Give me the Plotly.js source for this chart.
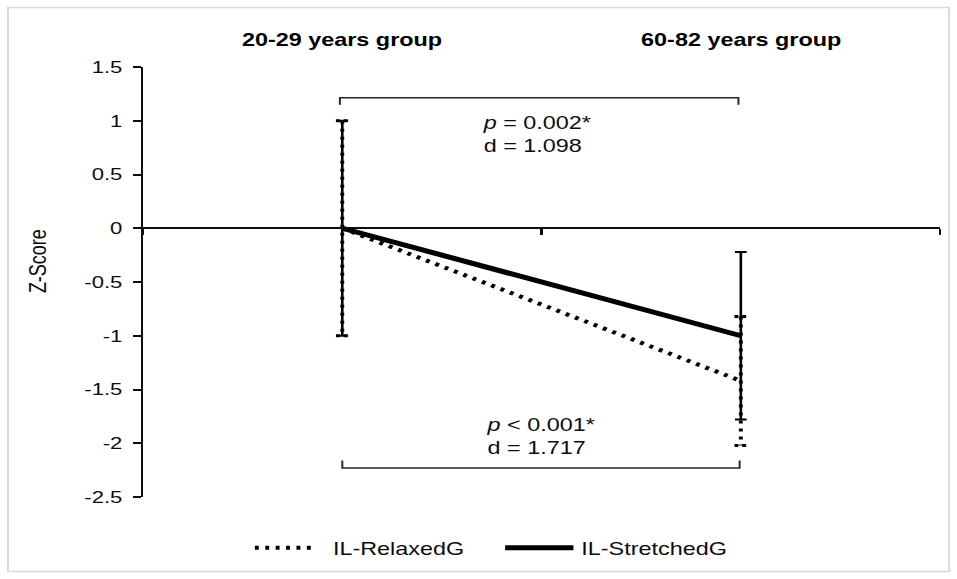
<!DOCTYPE html>
<html>
<head>
<meta charset="utf-8">
<script src="https://cdn.plot.ly/plotly-3.0.1.min.js"></script>
<style>
html,body{margin:0;padding:0;overflow:hidden;background:#fff;}
#wrap{width:957px;height:579px;overflow:hidden;}
#chart{width:736px;height:579px;transform:scaleX(1.30027);transform-origin:0 0;}
</style>
</head>
<body>
<div id="wrap"><div id="chart"></div></div>
<script>
// ---- data ----
const groups = ['20-29 years group', '60-82 years group'];
const seriesNames = ['IL-RelaxedG', 'IL-StretchedG'];
const relaxedMean = [0, -1.42];
const relaxedErr = [1, 0.6];
const stretchedMean = [0, -1];
const stretchedErr = [1, 0.78];
const yTickVals = [-2.5, -2, -1.5, -1, -0.5, 0, 0.5, 1, 1.5];
const yTickText = ['-2.5', '-2', '-1.5', '-1', '-0.5', '0', '0.5', '1', '1.5'];
const pTexts = ['<i>p</i> = 0.002*', '<i>p</i> &lt; 0.001*'];
const dTexts = ['d = 1.098', 'd = 1.717'];
const yTitle = 'Z-Score';

// ---- helpers ----
const xIdx = groups.map((g, i) => i);
const INK = '#0d0d0d';
const FONT = 'Liberation Sans, Arial, sans-serif';

function errVertical(xs, ys, es) {
  const X = [], Y = [];
  xs.forEach((x, i) => { X.push(x, x, null); Y.push(ys[i] + es[i], ys[i] - es[i], null); });
  return {X, Y};
}
function errCaps(xs, ys, es, half) {
  const X = [], Y = [];
  xs.forEach((x, i) => {
    X.push(x - half, x + half, null, x - half, x + half, null);
    Y.push(ys[i] + es[i], ys[i] + es[i], null, ys[i] - es[i], ys[i] - es[i], null);
  });
  return {X, Y};
}
const rv = errVertical(xIdx, relaxedMean, relaxedErr);
const rc = errCaps(xIdx, relaxedMean, relaxedErr, 0.016);

const traces = [
  {
    type: 'scatter', mode: 'lines', name: seriesNames[1],
    x: xIdx, y: stretchedMean,
    line: {color: '#000', width: 5},
    error_y: {type: 'data', array: stretchedErr, visible: true, color: '#000', thickness: 2, width: 4.5},
    hoverinfo: 'skip'
  },
  {
    type: 'scatter', mode: 'lines', showlegend: false,
    x: rv.X, y: rv.Y,
    line: {color: '#000', width: 3, dash: '3px,5px'},
    hoverinfo: 'skip'
  },
  {
    type: 'scatter', mode: 'lines', showlegend: false,
    x: rc.X, y: rc.Y,
    line: {color: '#000', width: 3, dash: '3px,3px'},
    hoverinfo: 'skip'
  },
  {
    type: 'scatter', mode: 'lines', name: seriesNames[0],
    x: xIdx, y: relaxedMean,
    line: {color: '#000', width: 4, dash: '3px,5px'},
    hoverinfo: 'skip'
  }
];

const annotations = [];
groups.forEach((g, i) => {
  annotations.push({
    text: g, x: i, xref: 'x', y: 1.0636, yref: 'paper',
    xanchor: 'center', yanchor: 'middle', showarrow: false,
    font: {family: FONT, size: 18, color: '#000', weight: 'bold'}
  });
});
annotations.push({
  text: yTitle, textangle: -90, x: -0.1318, xref: 'paper', y: 0.549, yref: 'paper',
  xanchor: 'center', yanchor: 'middle', showarrow: false,
  font: {family: FONT, size: 18, color: INK}
});
const statX = [0.345, 0.355];
const statY = [0.872, -1.936];
pTexts.forEach((p, i) => {
  annotations.push({
    text: p + '<br>' + dTexts[i], x: statX[i], xref: 'x', y: statY[i], yref: 'y',
    xanchor: 'left', yanchor: 'middle', align: 'left', showarrow: false,
    font: {family: FONT, size: 18, color: INK}
  });
});
// legend text
annotations.push({
  text: seriesNames[0], x: 0.2355, xref: 'paper', y: -0.1204, yref: 'paper',
  xanchor: 'left', yanchor: 'middle', showarrow: false,
  font: {family: FONT, size: 18, color: INK}
});
annotations.push({
  text: seriesNames[1], x: 0.547, xref: 'paper', y: -0.1204, yref: 'paper',
  xanchor: 'left', yanchor: 'middle', showarrow: false,
  font: {family: FONT, size: 18, color: INK}
});

const shapes = [
  // chart border
  {type: 'rect', xref: 'paper', yref: 'paper', x0: -0.1694, x1: 1.0114, y0: -0.1733, y1: 1.1381,
   line: {color: '#d9d9d9', width: 1.5}, fillcolor: 'rgba(0,0,0,0)', layer: 'below'},
  // top bracket
  {type: 'path', xref: 'x', yref: 'y', path: 'M -0.006,1.149 L -0.006,1.214 L 0.994,1.214 L 0.994,1.149',
   line: {color: '#262626', width: 1.5}},
  // bottom bracket
  {type: 'path', xref: 'x', yref: 'y', path: 'M 0.0,-2.160 L 0.0,-2.231 L 0.997,-2.231 L 0.997,-2.160',
   line: {color: '#262626', width: 1.5}},
  // legend samples
  {type: 'line', xref: 'paper', yref: 'paper', x0: 0.1403, x1: 0.2186, y0: -0.1181, y1: -0.1181,
   line: {color: '#000', width: 4, dash: '3px,5px'}},
  {type: 'line', xref: 'paper', yref: 'paper', x0: 0.4543, x1: 0.5400, y0: -0.1181, y1: -0.1181,
   line: {color: '#000', width: 5}}
];

const layout = {
  width: 736, height: 579,
  margin: {l: 110, r: 13, t: 67, b: 82.4, pad: 0},
  paper_bgcolor: '#fff', plot_bgcolor: 'rgba(0,0,0,0)',
  showlegend: false,
  font: {family: FONT, color: INK, size: 17},
  xaxis: {
    type: 'linear', range: [-0.5, 1.5], anchor: 'free', position: 0.625,
    showline: true, linecolor: INK, linewidth: 2,
    ticks: 'outside', ticklen: 6, tickwidth: 2, tickcolor: INK,
    tickvals: [-0.5, 0.5, 1.5], showticklabels: false,
    showgrid: false, zeroline: false, fixedrange: true
  },
  yaxis: {
    range: [-2.5, 1.5], tickvals: yTickVals, ticktext: yTickText,
    showline: true, linecolor: INK, linewidth: 1.5,
    ticks: 'outside', ticklen: 6, tickwidth: 2, tickcolor: INK,
    ticklabelstandoff: 5,
    tickfont: {family: FONT, size: 17, color: INK},
    showgrid: false, zeroline: false, fixedrange: true
  },
  annotations: annotations,
  shapes: shapes
};

Plotly.newPlot('chart', traces, layout, {displayModeBar: false, staticPlot: true});
</script>
</body>
</html>
